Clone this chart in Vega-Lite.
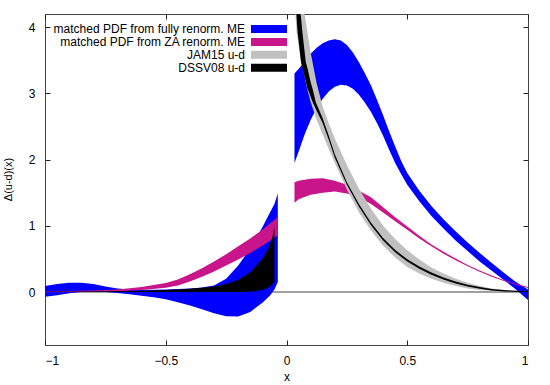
{
  "$schema": "https://vega.github.io/schema/vega-lite/v6.json",
  "width": 483,
  "height": 331,
  "autosize": {"type": "none"},
  "padding": {"left": 45, "top": 14, "right": 22, "bottom": 40},
  "background": "white",
  "config": {
    "view": {"stroke": "#444", "strokeWidth": 1},
    "font": "Liberation Sans",
    "axis": {
      "grid": false, "domain": false, "tickColor": "#222", "tickSize": -5, "tickWidth": 1,
      "labelFont": "Liberation Sans", "labelFontSize": 12, "labelColor": "#000",
      "titleFont": "Liberation Sans", "titleFontSize": 12, "titleFontWeight": "normal", "titleColor": "#000"
    }
  },
  "datasets": {
    "bands": [
      {"s": "blue", "seg": "n", "x": -1, "lo": -0.07, "hi": 0.09},
      {"s": "blue", "seg": "n", "x": -0.95, "lo": -0.05, "hi": 0.12},
      {"s": "blue", "seg": "n", "x": -0.9, "lo": -0.02, "hi": 0.14},
      {"s": "blue", "seg": "n", "x": -0.85, "lo": 0.0, "hi": 0.14},
      {"s": "blue", "seg": "n", "x": -0.8, "lo": 0.005, "hi": 0.12},
      {"s": "blue", "seg": "n", "x": -0.75, "lo": 0.0, "hi": 0.085},
      {"s": "blue", "seg": "n", "x": -0.7, "lo": -0.015, "hi": 0.055},
      {"s": "blue", "seg": "n", "x": -0.65, "lo": -0.035, "hi": 0.04},
      {"s": "blue", "seg": "n", "x": -0.6, "lo": -0.055, "hi": 0.035},
      {"s": "blue", "seg": "n", "x": -0.55, "lo": -0.08, "hi": 0.035},
      {"s": "blue", "seg": "n", "x": -0.5, "lo": -0.11, "hi": 0.04},
      {"s": "blue", "seg": "n", "x": -0.45, "lo": -0.155, "hi": 0.045},
      {"s": "blue", "seg": "n", "x": -0.4, "lo": -0.205, "hi": 0.055},
      {"s": "blue", "seg": "n", "x": -0.35, "lo": -0.26, "hi": 0.07},
      {"s": "blue", "seg": "n", "x": -0.3, "lo": -0.32, "hi": 0.1},
      {"s": "blue", "seg": "n", "x": -0.25, "lo": -0.365, "hi": 0.2},
      {"s": "blue", "seg": "n", "x": -0.2, "lo": -0.37, "hi": 0.4},
      {"s": "blue", "seg": "n", "x": -0.15, "lo": -0.3, "hi": 0.66},
      {"s": "blue", "seg": "n", "x": -0.1, "lo": -0.16, "hi": 0.98},
      {"s": "blue", "seg": "n", "x": -0.07, "lo": -0.06, "hi": 1.19},
      {"s": "blue", "seg": "n", "x": -0.05, "lo": 0.04, "hi": 1.33},
      {"s": "blue", "seg": "n", "x": -0.036, "lo": 0.15, "hi": 1.49},
      {"s": "blue", "seg": "p", "x": 0.033, "lo": 1.95, "hi": 3.3},
      {"s": "blue", "seg": "p", "x": 0.05, "lo": 2.12, "hi": 3.37},
      {"s": "blue", "seg": "p", "x": 0.075, "lo": 2.38, "hi": 3.48},
      {"s": "blue", "seg": "p", "x": 0.1, "lo": 2.6, "hi": 3.6},
      {"s": "blue", "seg": "p", "x": 0.125, "lo": 2.78, "hi": 3.69},
      {"s": "blue", "seg": "p", "x": 0.15, "lo": 2.92, "hi": 3.76},
      {"s": "blue", "seg": "p", "x": 0.175, "lo": 3.03, "hi": 3.8},
      {"s": "blue", "seg": "p", "x": 0.2, "lo": 3.1, "hi": 3.82},
      {"s": "blue", "seg": "p", "x": 0.225, "lo": 3.13, "hi": 3.8},
      {"s": "blue", "seg": "p", "x": 0.25, "lo": 3.12, "hi": 3.73},
      {"s": "blue", "seg": "p", "x": 0.275, "lo": 3.07, "hi": 3.62},
      {"s": "blue", "seg": "p", "x": 0.3, "lo": 2.98, "hi": 3.47},
      {"s": "blue", "seg": "p", "x": 0.325, "lo": 2.86, "hi": 3.3},
      {"s": "blue", "seg": "p", "x": 0.35, "lo": 2.72, "hi": 3.12},
      {"s": "blue", "seg": "p", "x": 0.375, "lo": 2.55, "hi": 2.9},
      {"s": "blue", "seg": "p", "x": 0.4, "lo": 2.36, "hi": 2.67},
      {"s": "blue", "seg": "p", "x": 0.425, "lo": 2.15, "hi": 2.43},
      {"s": "blue", "seg": "p", "x": 0.45, "lo": 1.95, "hi": 2.2},
      {"s": "blue", "seg": "p", "x": 0.475, "lo": 1.78, "hi": 1.98},
      {"s": "blue", "seg": "p", "x": 0.5, "lo": 1.62, "hi": 1.8},
      {"s": "blue", "seg": "p", "x": 0.55, "lo": 1.37, "hi": 1.53},
      {"s": "blue", "seg": "p", "x": 0.6, "lo": 1.15, "hi": 1.3},
      {"s": "blue", "seg": "p", "x": 0.65, "lo": 0.96, "hi": 1.1},
      {"s": "blue", "seg": "p", "x": 0.7, "lo": 0.78, "hi": 0.92},
      {"s": "blue", "seg": "p", "x": 0.75, "lo": 0.62, "hi": 0.75},
      {"s": "blue", "seg": "p", "x": 0.8, "lo": 0.46, "hi": 0.59},
      {"s": "blue", "seg": "p", "x": 0.85, "lo": 0.32, "hi": 0.44},
      {"s": "blue", "seg": "p", "x": 0.9, "lo": 0.18, "hi": 0.29},
      {"s": "blue", "seg": "p", "x": 0.95, "lo": 0.04, "hi": 0.15},
      {"s": "blue", "seg": "p", "x": 1.0, "lo": -0.12, "hi": 0.04},

      {"s": "mag", "seg": "n", "x": -1, "lo": -0.005, "hi": 0.01},
      {"s": "mag", "seg": "n", "x": -0.9, "lo": 0.0, "hi": 0.015},
      {"s": "mag", "seg": "n", "x": -0.8, "lo": 0.005, "hi": 0.025},
      {"s": "mag", "seg": "n", "x": -0.7, "lo": 0.012, "hi": 0.04},
      {"s": "mag", "seg": "n", "x": -0.6, "lo": 0.03, "hi": 0.075},
      {"s": "mag", "seg": "n", "x": -0.5, "lo": 0.065, "hi": 0.135},
      {"s": "mag", "seg": "n", "x": -0.45, "lo": 0.1, "hi": 0.19},
      {"s": "mag", "seg": "n", "x": -0.4, "lo": 0.16, "hi": 0.27},
      {"s": "mag", "seg": "n", "x": -0.35, "lo": 0.23, "hi": 0.36},
      {"s": "mag", "seg": "n", "x": -0.3, "lo": 0.31, "hi": 0.46},
      {"s": "mag", "seg": "n", "x": -0.25, "lo": 0.4, "hi": 0.57},
      {"s": "mag", "seg": "n", "x": -0.2, "lo": 0.49, "hi": 0.69},
      {"s": "mag", "seg": "n", "x": -0.15, "lo": 0.59, "hi": 0.81},
      {"s": "mag", "seg": "n", "x": -0.1, "lo": 0.7, "hi": 0.94},
      {"s": "mag", "seg": "n", "x": -0.07, "lo": 0.77, "hi": 1.03},
      {"s": "mag", "seg": "n", "x": -0.05, "lo": 0.82, "hi": 1.09},
      {"s": "mag", "seg": "n", "x": -0.036, "lo": 0.86, "hi": 1.14},
      {"s": "mag", "seg": "p", "x": 0.033, "lo": 1.35, "hi": 1.66},
      {"s": "mag", "seg": "p", "x": 0.05, "lo": 1.4, "hi": 1.68},
      {"s": "mag", "seg": "p", "x": 0.1, "lo": 1.47, "hi": 1.71},
      {"s": "mag", "seg": "p", "x": 0.15, "lo": 1.5, "hi": 1.72},
      {"s": "mag", "seg": "p", "x": 0.2, "lo": 1.52, "hi": 1.68},
      {"s": "mag", "seg": "p", "x": 0.25, "lo": 1.49, "hi": 1.62},
      {"s": "mag", "seg": "p", "x": 0.3, "lo": 1.43, "hi": 1.53},
      {"s": "mag", "seg": "p", "x": 0.35, "lo": 1.33, "hi": 1.43},
      {"s": "mag", "seg": "p", "x": 0.4, "lo": 1.2, "hi": 1.28},
      {"s": "mag", "seg": "p", "x": 0.45, "lo": 1.07, "hi": 1.13},
      {"s": "mag", "seg": "p", "x": 0.5, "lo": 0.94, "hi": 0.99},
      {"s": "mag", "seg": "p", "x": 0.55, "lo": 0.81, "hi": 0.85},
      {"s": "mag", "seg": "p", "x": 0.6, "lo": 0.69, "hi": 0.72},
      {"s": "mag", "seg": "p", "x": 0.65, "lo": 0.58, "hi": 0.61},
      {"s": "mag", "seg": "p", "x": 0.7, "lo": 0.48, "hi": 0.505},
      {"s": "mag", "seg": "p", "x": 0.75, "lo": 0.39, "hi": 0.41},
      {"s": "mag", "seg": "p", "x": 0.8, "lo": 0.305, "hi": 0.325},
      {"s": "mag", "seg": "p", "x": 0.85, "lo": 0.23, "hi": 0.25},
      {"s": "mag", "seg": "p", "x": 0.9, "lo": 0.165, "hi": 0.18},
      {"s": "mag", "seg": "p", "x": 0.95, "lo": 0.11, "hi": 0.125},
      {"s": "mag", "seg": "p", "x": 1.0, "lo": 0.06, "hi": 0.075},

      {"s": "grey", "seg": "p", "x": 0.035, "lo": 4.3, "hi": 5.0},
      {"s": "grey", "seg": "p", "x": 0.042, "lo": 3.92, "hi": 5.0},
      {"s": "grey", "seg": "p", "x": 0.05, "lo": 3.72, "hi": 4.9},
      {"s": "grey", "seg": "p", "x": 0.06, "lo": 3.5, "hi": 4.6},
      {"s": "grey", "seg": "p", "x": 0.075, "lo": 3.25, "hi": 4.2},
      {"s": "grey", "seg": "p", "x": 0.087, "lo": 3.05, "hi": 3.92},
      {"s": "grey", "seg": "p", "x": 0.1, "lo": 2.87, "hi": 3.62},
      {"s": "grey", "seg": "p", "x": 0.125, "lo": 2.6, "hi": 3.15},
      {"s": "grey", "seg": "p", "x": 0.15, "lo": 2.38, "hi": 2.8},
      {"s": "grey", "seg": "p", "x": 0.175, "lo": 2.16, "hi": 2.55},
      {"s": "grey", "seg": "p", "x": 0.2, "lo": 1.95, "hi": 2.32},
      {"s": "grey", "seg": "p", "x": 0.25, "lo": 1.55, "hi": 1.92},
      {"s": "grey", "seg": "p", "x": 0.3, "lo": 1.2, "hi": 1.56},
      {"s": "grey", "seg": "p", "x": 0.35, "lo": 0.93, "hi": 1.26},
      {"s": "grey", "seg": "p", "x": 0.4, "lo": 0.7, "hi": 1.0},
      {"s": "grey", "seg": "p", "x": 0.45, "lo": 0.52, "hi": 0.8},
      {"s": "grey", "seg": "p", "x": 0.5, "lo": 0.38, "hi": 0.63},
      {"s": "grey", "seg": "p", "x": 0.55, "lo": 0.28, "hi": 0.49},
      {"s": "grey", "seg": "p", "x": 0.6, "lo": 0.2, "hi": 0.37},
      {"s": "grey", "seg": "p", "x": 0.65, "lo": 0.14, "hi": 0.28},
      {"s": "grey", "seg": "p", "x": 0.7, "lo": 0.09, "hi": 0.2},
      {"s": "grey", "seg": "p", "x": 0.75, "lo": 0.055, "hi": 0.14},
      {"s": "grey", "seg": "p", "x": 0.8, "lo": 0.03, "hi": 0.09},
      {"s": "grey", "seg": "p", "x": 0.85, "lo": 0.015, "hi": 0.055},
      {"s": "grey", "seg": "p", "x": 0.9, "lo": 0.006, "hi": 0.03},
      {"s": "grey", "seg": "p", "x": 0.95, "lo": 0.002, "hi": 0.012},
      {"s": "grey", "seg": "p", "x": 1.0, "lo": 0.0, "hi": 0.003},

      {"s": "black", "seg": "n", "x": -1, "lo": 0.0, "hi": 0.004},
      {"s": "black", "seg": "n", "x": -0.8, "lo": 0.0, "hi": 0.008},
      {"s": "black", "seg": "n", "x": -0.6, "lo": 0.0, "hi": 0.02},
      {"s": "black", "seg": "n", "x": -0.5, "lo": 0.0, "hi": 0.03},
      {"s": "black", "seg": "n", "x": -0.4, "lo": 0.0, "hi": 0.05},
      {"s": "black", "seg": "n", "x": -0.35, "lo": 0.0, "hi": 0.065},
      {"s": "black", "seg": "n", "x": -0.3, "lo": 0.0, "hi": 0.085},
      {"s": "black", "seg": "n", "x": -0.25, "lo": 0.0, "hi": 0.12},
      {"s": "black", "seg": "n", "x": -0.2, "lo": 0.0, "hi": 0.18},
      {"s": "black", "seg": "n", "x": -0.15, "lo": 0.005, "hi": 0.3},
      {"s": "black", "seg": "n", "x": -0.1, "lo": 0.03, "hi": 0.5},
      {"s": "black", "seg": "n", "x": -0.075, "lo": 0.07, "hi": 0.66},
      {"s": "black", "seg": "n", "x": -0.06, "lo": 0.11, "hi": 0.8},
      {"s": "black", "seg": "n", "x": -0.05, "lo": 0.155, "hi": 0.98},
      {"s": "black", "seg": "p", "x": 0.04, "lo": 4.25, "hi": 4.8},
      {"s": "black", "seg": "p", "x": 0.046, "lo": 3.92, "hi": 4.6},
      {"s": "black", "seg": "p", "x": 0.05, "lo": 3.8, "hi": 4.45},
      {"s": "black", "seg": "p", "x": 0.06, "lo": 3.47, "hi": 4.15},
      {"s": "black", "seg": "p", "x": 0.066, "lo": 3.38, "hi": 3.92},
      {"s": "black", "seg": "p", "x": 0.08, "lo": 3.18, "hi": 3.47},
      {"s": "black", "seg": "p", "x": 0.087, "lo": 3.07, "hi": 3.38},
      {"s": "black", "seg": "p", "x": 0.1, "lo": 2.95, "hi": 3.17},
      {"s": "black", "seg": "p", "x": 0.108, "lo": 2.87, "hi": 3.07},
      {"s": "black", "seg": "p", "x": 0.121, "lo": 2.77, "hi": 2.87},
      {"s": "black", "seg": "p", "x": 0.15, "lo": 2.55, "hi": 2.62},
      {"s": "black", "seg": "p", "x": 0.175, "lo": 2.3, "hi": 2.36},
      {"s": "black", "seg": "p", "x": 0.2, "lo": 2.03, "hi": 2.08},
      {"s": "black", "seg": "p", "x": 0.25, "lo": 1.62, "hi": 1.66},
      {"s": "black", "seg": "p", "x": 0.3, "lo": 1.29, "hi": 1.33},
      {"s": "black", "seg": "p", "x": 0.35, "lo": 1.01, "hi": 1.045},
      {"s": "black", "seg": "p", "x": 0.4, "lo": 0.78, "hi": 0.815},
      {"s": "black", "seg": "p", "x": 0.45, "lo": 0.6, "hi": 0.635},
      {"s": "black", "seg": "p", "x": 0.5, "lo": 0.46, "hi": 0.495},
      {"s": "black", "seg": "p", "x": 0.55, "lo": 0.35, "hi": 0.385},
      {"s": "black", "seg": "p", "x": 0.6, "lo": 0.26, "hi": 0.295},
      {"s": "black", "seg": "p", "x": 0.65, "lo": 0.19, "hi": 0.22},
      {"s": "black", "seg": "p", "x": 0.7, "lo": 0.13, "hi": 0.16},
      {"s": "black", "seg": "p", "x": 0.75, "lo": 0.085, "hi": 0.11},
      {"s": "black", "seg": "p", "x": 0.8, "lo": 0.05, "hi": 0.075},
      {"s": "black", "seg": "p", "x": 0.85, "lo": 0.025, "hi": 0.045},
      {"s": "black", "seg": "p", "x": 0.9, "lo": 0.01, "hi": 0.03},
      {"s": "black", "seg": "p", "x": 0.95, "lo": 0.002, "hi": 0.02},
      {"s": "black", "seg": "p", "x": 1.0, "lo": 0.0, "hi": 0.015}
    ],
    "names": [
      {"s": "blue", "name": "matched PDF from fully renorm. ME"},
      {"s": "mag", "name": "matched PDF from ZA renorm. ME"},
      {"s": "grey", "name": "JAM15 u-d"},
      {"s": "black", "name": "DSSV08 u-d"}
    ]
  },
  "data": {"name": "bands"},
  "transform": [
    {"lookup": "s", "from": {"data": {"name": "names"}, "key": "s", "fields": ["name"]}}
  ],
  "resolve": {"axis": {"x": "independent", "y": "independent"}},
  "layer": [
    {
      "mark": {"type": "rule", "color": "#a0a0a0", "strokeWidth": 1},
      "encoding": {
        "y": {"datum": 0, "type": "quantitative",
              "scale": {"domain": [-0.8, 4.2], "nice": false, "zero": false},
              "axis": {"orient": "right", "values": [0, 1, 2, 3, 4], "labels": false, "title": null}}
      }
    },
    {
      "transform": [{"filter": "datum.s === 'blue'"}],
      "mark": {"type": "area", "clip": true, "opacity": 1},
      "encoding": {
        "x": {"field": "x", "type": "quantitative",
              "scale": {"domain": [-1, 1], "nice": false, "zero": false},
              "axis": {"values": [-1, -0.5, 0, 0.5, 1], "format": "~g", "labelPadding": 15, "title": "x", "titleY": 31, "titleBaseline": "middle"}},
        "y": {"field": "lo", "type": "quantitative",
              "scale": {"domain": [-0.8, 4.2], "nice": false, "zero": false},
              "axis": {"values": [0, 1, 2, 3, 4], "labelPadding": 15, "title": "Δ(u-d)(x)", "titleX": -37, "titleY": 165, "titleAngle": -90, "titleAlign": "center", "titleBaseline": "middle", "titleFontSize": 11}},
        "y2": {"field": "hi"},
        "detail": {"field": "seg"},
        "color": {"field": "name", "type": "nominal",
                  "scale": {"domain": ["matched PDF from fully renorm. ME", "matched PDF from ZA renorm. ME", "JAM15 u-d", "DSSV08 u-d"],
                            "range": ["#0000ff", "#c8168a", "#c0c0c0", "#000000"]},
                  "legend": {"orient": "none", "legendX": 218, "legendY": 9, "title": null, "padding": 0,
                             "symbolType": "M-3,-0.67H3V0.67H-3Z", "symbolSize": 144, "symbolStrokeWidth": 0,
                             "labelAlign": "right", "labelOffset": -30, "labelFontSize": 12, "labelFont": "Liberation Sans",
                             "labelColor": "#000", "rowPadding": 0.9, "labelLimit": 400}}
      }
    },
    {
      "transform": [{"filter": "datum.s === 'mag'"}],
      "mark": {"type": "area", "clip": true},
      "encoding": {
        "x": {"field": "x", "type": "quantitative", "axis": {"orient": "top", "values": [-1, -0.5, 0, 0.5, 1], "labels": false, "title": null}},
        "y": {"field": "lo", "type": "quantitative", "axis": null},
        "y2": {"field": "hi"},
        "detail": {"field": "seg"},
        "color": {"field": "name", "type": "nominal"}
      }
    },
    {
      "transform": [{"filter": "datum.s === 'grey'"}],
      "mark": {"type": "area", "clip": true},
      "encoding": {
        "x": {"field": "x", "type": "quantitative", "axis": null},
        "y": {"field": "lo", "type": "quantitative", "axis": null},
        "y2": {"field": "hi"},
        "detail": {"field": "seg"},
        "color": {"field": "name", "type": "nominal"}
      }
    },
    {
      "transform": [{"filter": "datum.s === 'black'"}],
      "mark": {"type": "area", "clip": true},
      "encoding": {
        "x": {"field": "x", "type": "quantitative", "axis": null},
        "y": {"field": "lo", "type": "quantitative", "axis": null},
        "y2": {"field": "hi"},
        "detail": {"field": "seg"},
        "color": {"field": "name", "type": "nominal"}
      }
    }
  ]
}
